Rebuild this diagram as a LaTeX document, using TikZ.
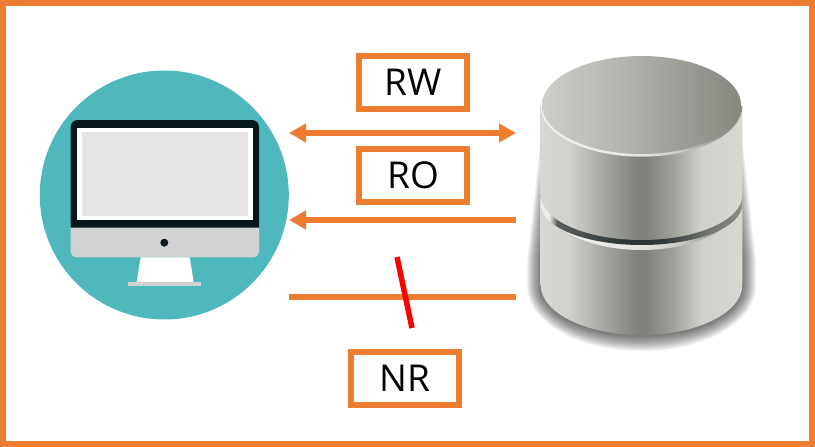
\documentclass[tikz,border=0pt]{standalone}
\usepackage{fontspec}
\setmainfont{Open Sans}
\usetikzlibrary{arrows.meta}
\definecolor{frameor}{HTML}{ED7D31}
\definecolor{tealdisc}{HTML}{4FB8BD}
\definecolor{monblack}{HTML}{07171C}
\definecolor{scrgrey}{HTML}{E4E4E4}
\definecolor{chin}{HTML}{D2D2D2}
\definecolor{cutred}{HTML}{FF0000}
\definecolor{sa}{HTML}{D6D9D1}
\definecolor{sb}{HTML}{D0D3CB}
\definecolor{sc}{HTML}{A5A7A0}
\definecolor{sd}{HTML}{7F817C}
\definecolor{sf}{HTML}{9A9C95}
\definecolor{sg}{HTML}{CFD2CA}
\definecolor{ta}{HTML}{CDD0C8}
\definecolor{tb}{HTML}{ABADA6}
\definecolor{tc}{HTML}{85877F}
\definecolor{ra}{HTML}{F2F3F0}
\definecolor{rb}{HTML}{E4E5E2}
\definecolor{rc}{HTML}{C8C9C5}
\definecolor{rd}{HTML}{8F918B}
\definecolor{re}{HTML}{8A8C86}
\definecolor{ga}{HTML}{ECEDEA}
\definecolor{gb}{HTML}{5A5F5D}
\definecolor{gc}{HTML}{2E3637}
\definecolor{gd}{HTML}{6E716C}
\definecolor{ge}{HTML}{8B8D87}
\pgfdeclarehorizontalshading{sideshade}{100bp}{color(0bp)=(sa); color(25bp)=(sa); color(32bp)=(sb); color(40.5bp)=(sc); color(49bp)=(sd); color(51bp)=(sd); color(57bp)=(sf); color(65bp)=(sg); color(75bp)=(sa); color(100bp)=(sa)}
\pgfdeclarehorizontalshading{topshade}{100bp}{color(0bp)=(ta); color(25bp)=(ta); color(50bp)=(tb); color(75bp)=(tc); color(100bp)=(tc)}
\pgfdeclarehorizontalshading{rimshade}{100bp}{color(0bp)=(ra); color(25bp)=(ra); color(50bp)=(rb); color(60bp)=(rc); color(70bp)=(rd); color(75bp)=(re); color(100bp)=(re)}
\pgfdeclarehorizontalshading{grooveshade}{100bp}{color(0bp)=(ga); color(25bp)=(ga); color(27bp)=(ga); color(29bp)=(gb); color(45bp)=(gc); color(55bp)=(gc); color(66bp)=(gd); color(75bp)=(ge); color(100bp)=(ge)}
\tikzset{
 labelbox/.style={draw=frameor,line width=6pt,fill=white,minimum width=108pt,minimum height=53pt,inner sep=0pt,font=\fontsize{37}{40}\selectfont,text=black},
 link/.style={draw=frameor,line width=6pt},
 headed/.style={link,-{Triangle[length=17pt,width=18pt]}},
 twohead/.style={link,{Triangle[length=17pt,width=18pt]}-{Triangle[length=17pt,width=18pt]}}
}
\begin{document}
\begin{tikzpicture}[x=1pt,y=-1pt]
\useasboundingbox (0,0) rectangle (815,447);
% frame
\draw[frameor,line width=6pt] (3,3) rectangle (812,444);
% computer
\fill[tealdisc] (164.3,195) circle[radius=124.5];
\fill[chin,rounded corners=6pt] (70.7,215) rectangle (259,257.3);
\fill[monblack] (70.7,227.7) [rounded corners=7pt] -- (70.7,120) -- (259,120) [sharp corners] -- (259,227.7) -- cycle;
\fill[white] (77.3,128) rectangle (252.7,220);
\fill[scrgrey] (82.3,132) rectangle (247.7,216);
\fill[monblack] (164.3,242.7) circle[radius=4];
\fill[white] (140.7,257.3) -- (189.7,257.3) -- (193.7,282) -- (136.7,282) -- cycle;
\fill[chin] (128.3,282) rectangle (201,286);
% shadow of the cylinder
\foreach \d in {0,1,...,25}{
 \pgfmathsetmacro{\rx}{101+0.55*\d}
 \pgfmathsetmacro{\ry}{50+0.62*\d}
 \pgfmathsetmacro{\yt}{130+5*\d}
 \pgfmathsetmacro{\xl}{641.5-\rx}
 \pgfmathsetmacro{\xr}{641.5+\rx}
 \fill[black,opacity=0.028] (\xr,286) [rounded corners=8pt] -- (\xr,\yt) -- (\xl,\yt) [sharp corners] -- (\xl,286)
   arc[start angle=180,end angle=0,x radius=\rx,y radius=\ry] -- cycle;
}
% lower disc
\path[shading=sideshade] (540.7,197) -- (540.7,285) arc[start angle=180,end angle=0,x radius=100.8,y radius=50] -- (742.3,197) -- cycle;
\path[shading=rimshade] (540.7,197) arc[start angle=180,end angle=0,x radius=100.8,y radius=53] -- cycle;
\path[shading=grooveshade] (541,197) -- (541,205) arc[start angle=180,end angle=0,x radius=100.5,y radius=40] -- (742.3,197) -- cycle;
% upper disc
\path[shading=sideshade] (540.7,106) -- (540.7,195) arc[start angle=180,end angle=0,x radius=100.8,y radius=45] -- (742.3,106) -- cycle;
\path[shading=rimshade] (540.7,106) arc[start angle=180,end angle=0,x radius=100.8,y radius=50.7] -- cycle;
\path[shading=topshade] (641.5,105) ellipse[x radius=99.5,y radius=49];
% connector ends
\coordinate (pcA) at (289,133); \coordinate (dbA) at (516,133);
\coordinate (pcB) at (289,220); \coordinate (dbB) at (516,220);
\coordinate (pcC) at (289,297); \coordinate (dbC) at (516,297);
\coordinate (cutT) at (397,257); \coordinate (cutB) at (412,328);
\draw[twohead] (pcA) -- (dbA);
\draw[headed] (dbB) -- (pcB);
\draw[link] (pcC) -- (dbC);
\draw[cutred,line width=5.5pt] (cutT) -- (cutB);
% labels
\node[labelbox] (rw) at (413,82.3) {RW};
\node[labelbox] (ro) at (413,175.5) {RO};
\node[labelbox] (nr) at (405,378.5) {NR};
\end{tikzpicture}
\end{document}
